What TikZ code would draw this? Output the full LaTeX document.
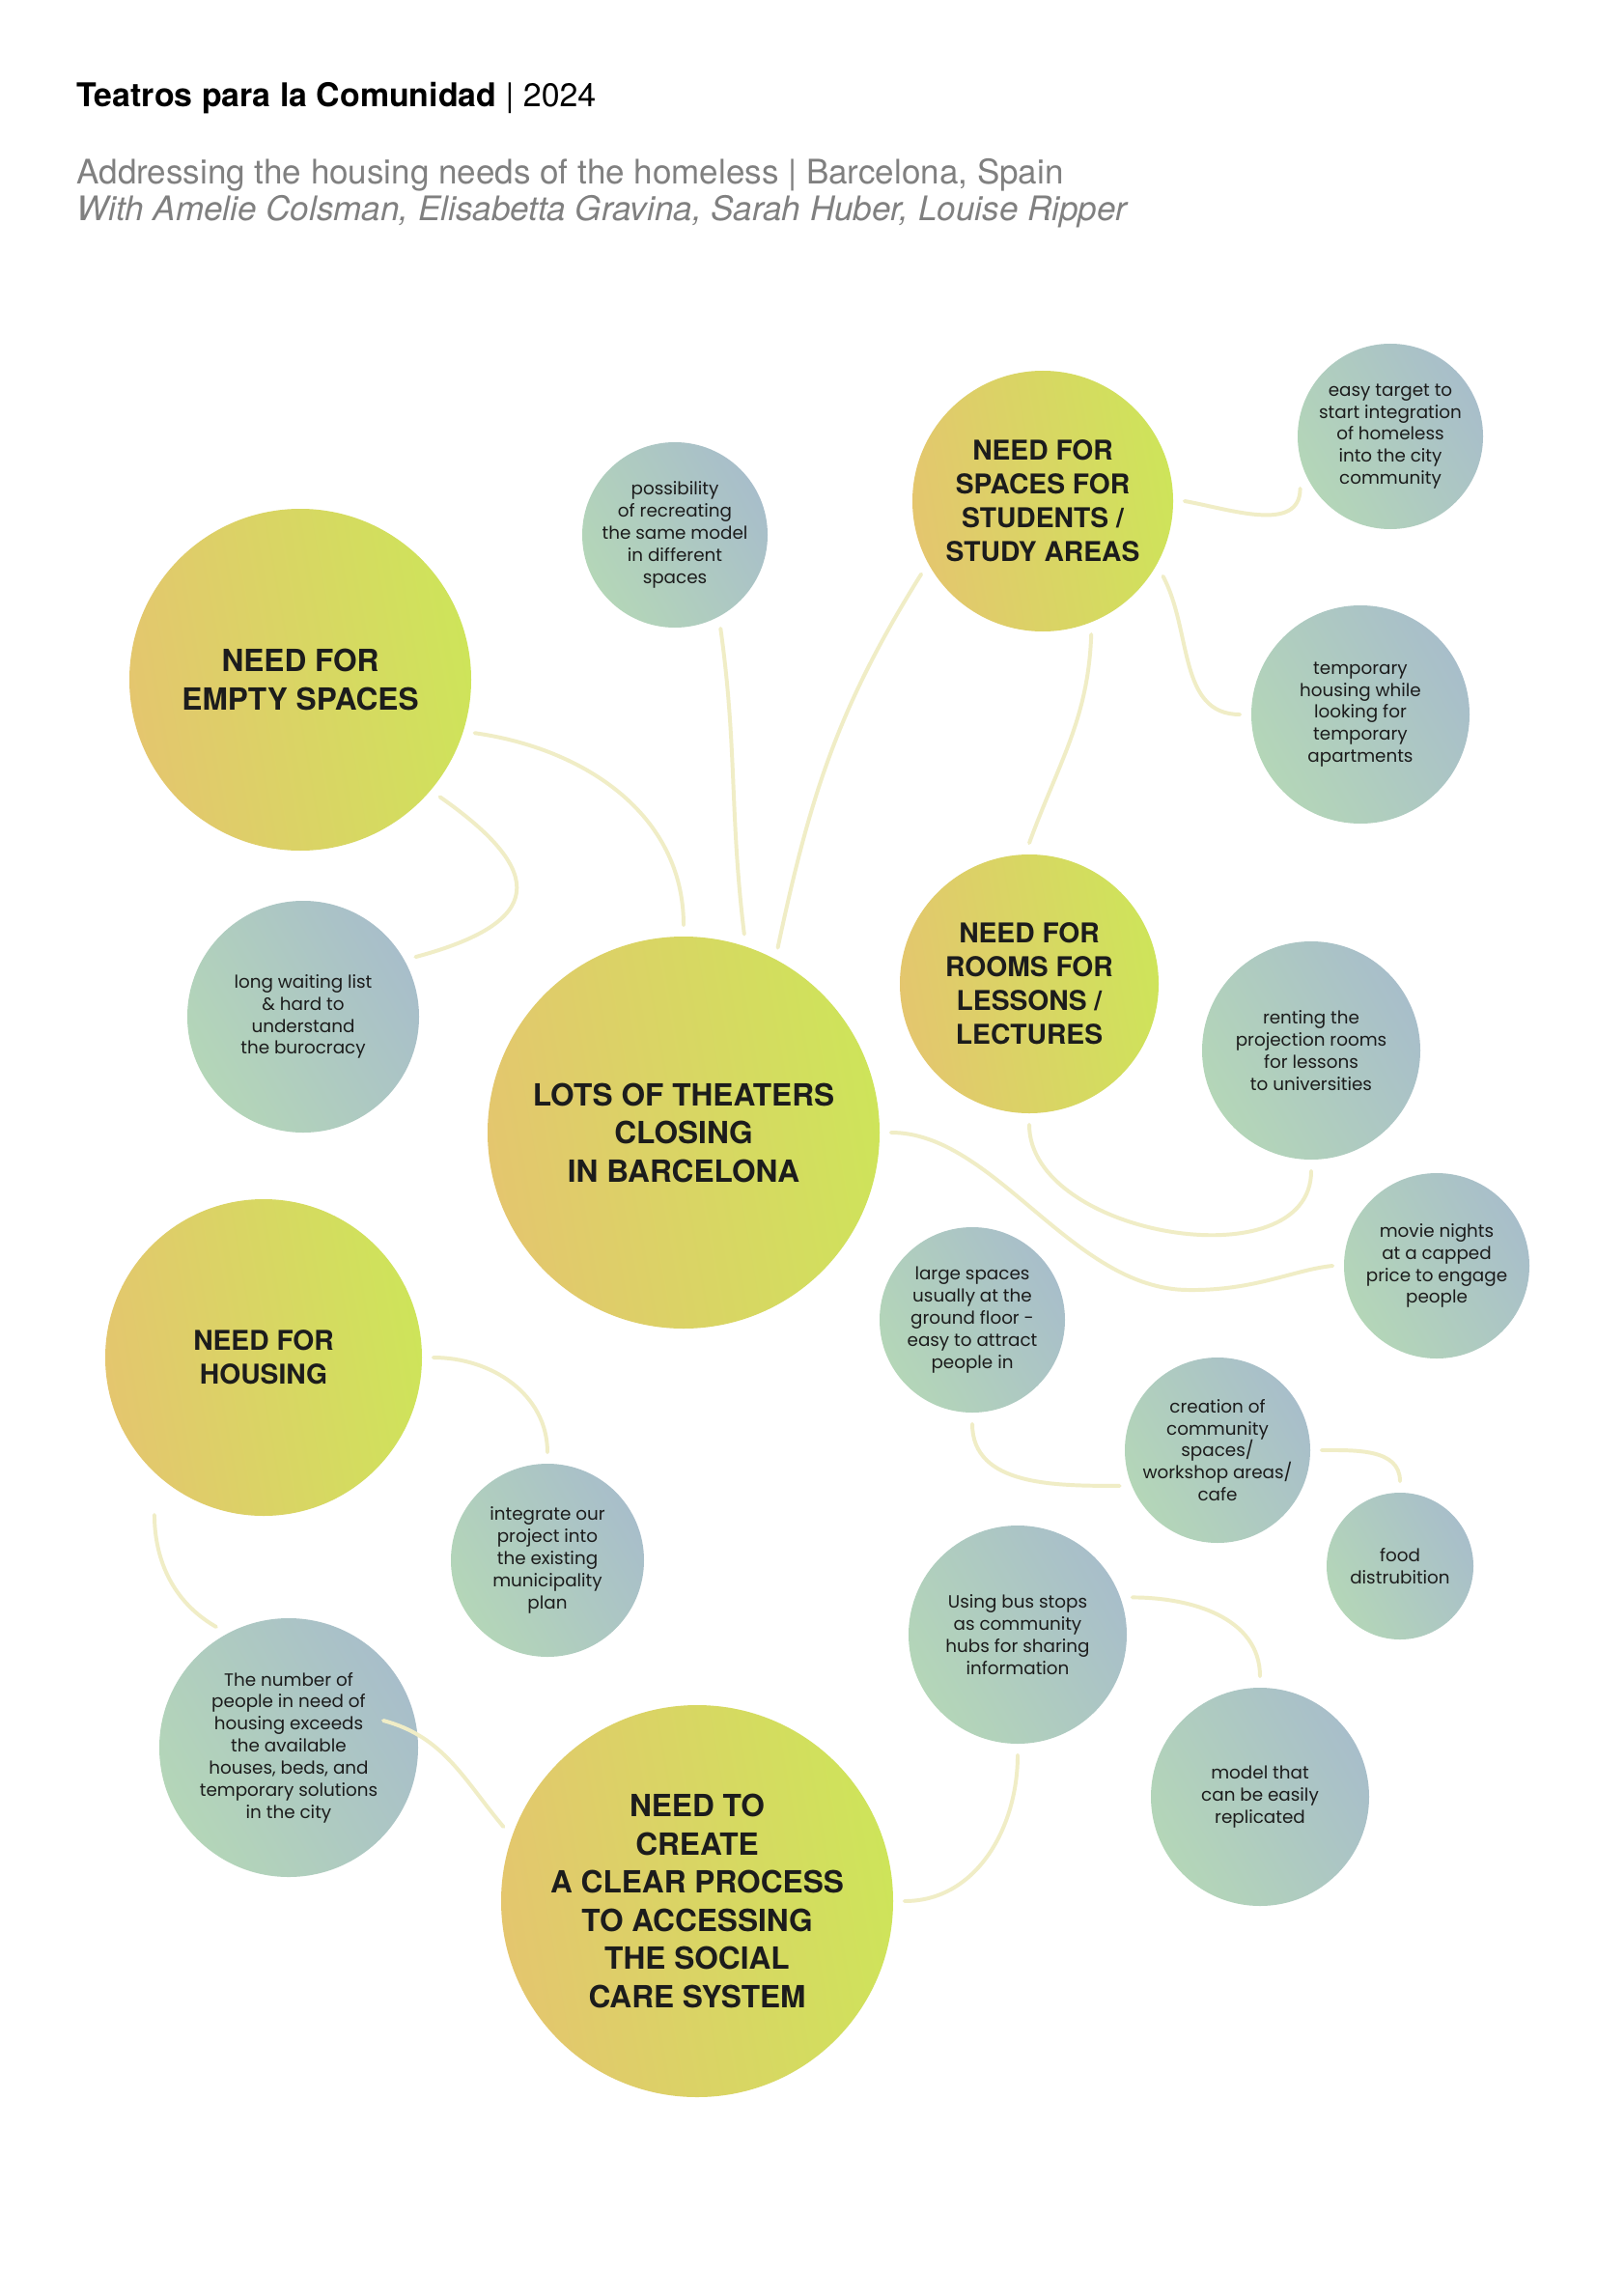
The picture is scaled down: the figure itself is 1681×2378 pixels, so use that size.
\documentclass[tikz,border=0pt]{standalone}
\usepackage{fontspec}
\setmainfont{TeX Gyre Heros}
\newfontfamily\ideafamily{Poppins}
\definecolor{needorange}{RGB}{228, 198, 110}
\definecolor{needlime}{RGB}{206, 228, 90}
\definecolor{ideagreen}{RGB}{180, 214, 184}
\definecolor{ideablue}{RGB}{168, 190, 202}
\definecolor{linkyellow}{RGB}{240, 237, 198}
\definecolor{inkdark}{RGB}{28, 28, 28}
\definecolor{subgray}{RGB}{128, 128, 128}

\begin{document}
\begin{tikzpicture}[x=0.3541pt, y=-0.3541pt,
        needbub/.style={circle, minimum size=2*#1*0.3541pt, inner sep=0pt,
            outer sep=4.2pt, left color=needorange, right color=needlime,
            shading angle=100, align=center, text=inkdark,
            font=\bfseries\fontsize{11.2}{14}\selectfont},
        needsmall/.style={needbub=#1,
            font=\bfseries\fontsize{10}{12.4}\selectfont},
        ideabub/.style={circle, minimum size=2*#1*0.3541pt, inner sep=0pt,
            outer sep=4.2pt, left color=ideagreen, right color=ideablue,
            shading angle=120, align=center, text=inkdark,
            font=\ideafamily\fontsize{6.5}{8.1}\selectfont},
        headline/.style={anchor=base west, inner sep=0pt,
            font=\fontsize{12.4}{15}\selectfont},
        link/.style={draw=linkyellow, line width=1.4pt, line cap=round}
    ]
    \useasboundingbox (0,0) rectangle (1681,2378);
    \fill[white] (0,0) rectangle (1681,2378);

    \node[headline, font=\fontsize{12}{15}\selectfont] (title) at (79,111)
        {\textbf{Teatros para la Comunidad} | 2024};
    \node[headline, text=subgray] (subtitle) at (79,191)
        {Addressing the housing needs of the homeless | Barcelona, Spain};
    \node[headline, text=subgray] (authors) at (79,229)
        {\itshape With Amelie Colsman, Elisabetta Gravina, Sarah Huber, Louise Ripper};

    % main needs
    \node[needbub=177] (empty) at (311,704) {NEED FOR\\EMPTY SPACES};
    \node[needbub=203] (lots) at (708,1173) {LOTS OF THEATERS\\CLOSING\\IN BARCELONA};
    \node[needsmall=164] (housing) at (273,1406) {NEED FOR\\HOUSING};
    \node[needbub=203] (process) at (722,1969)
        {NEED TO\\CREATE\\A CLEAR PROCESS\\TO ACCESSING\\THE SOCIAL\\CARE SYSTEM};
    \node[needsmall=135] (students) at (1080,519)
        {NEED FOR\\SPACES FOR\\STUDENTS /\\STUDY AREAS};
    \node[needsmall=134] (rooms) at (1066,1019)
        {NEED FOR\\ROOMS FOR\\LESSONS /\\LECTURES};

    % ideas
    \node[ideabub=96] (remake) at (699,554)
        {possibility\\of recreating\\the same model\\in different\\spaces};
    \node[ideabub=96] (target) at (1440,452)
        {easy target to\\start integration\\of homeless\\into the city\\community};
    \node[ideabub=113] (temphouse) at (1409,740)
        {temporary\\housing while\\looking for\\temporary\\apartments};
    \node[ideabub=120] (waiting) at (314,1053)
        {long waiting list\\\& hard to\\understand\\the burocracy};
    \node[ideabub=113] (renting) at (1358,1088)
        {renting the\\projection rooms\\for lessons\\to universities};
    \node[ideabub=96] (movie) at (1488,1311)
        {movie nights\\at a capped\\price to engage\\people};
    \node[ideabub=96] (large) at (1007,1367)
        {large spaces\\usually at the\\ground floor -\\easy to attract\\people in};
    \node[ideabub=96] (creation) at (1261,1502)
        {creation of\\community\\spaces/\\workshop areas/\\cafe};
    \node[ideabub=76] (food) at (1450,1622) {food\\distrubition};
    \node[ideabub=100] (integrate) at (567,1616)
        {integrate our\\project into\\the existing\\municipality\\plan};
    \node[ideabub=113] (busstops) at (1054,1693)
        {Using bus stops\\as community\\hubs for sharing\\information};
    \node[ideabub=134] (number) at (299,1810)
        {The number of\\people in need of\\housing exceeds\\the available\\houses, beds, and\\temporary solutions\\in the city};
    \node[ideabub=113] (model) at (1305,1861)
        {model that\\can be easily\\replicated};

    \coordinate (numtip) at (397,1782);

    \draw[link] (empty.-17) to[out=-8, in=90] (lots.90);
    \draw[link] (empty.-40) to[out=-35, in=15, looseness=2.1] (waiting.28);
    \draw[link] (remake.-64) to[out=-82, in=97] (lots.73);
    \draw[link] (students.211) to[out=-122, in=78] (lots.63);
    \draw[link] (students.0) to[out=-10, in=-90] (target.210);
    \draw[link] (students.-32) to[out=-62, in=180] (temphouse.180);
    \draw[link] (students.-70) to[out=-92, in=70] (rooms.90);
    \draw[link] (rooms.-90) to[out=-90, in=-90] (renting.-90);
    \draw[link] (lots.0) .. controls (1030,1173) and (1110,1335) .. (1230,1336)
        .. controls (1300,1337) and (1340,1315) .. (movie.180);
    \draw[link] (large.-90) to[out=-90, in=180] (creation.200);
    \draw[link] (creation.0) to[out=0, in=90] (food.90);
    \draw[link] (busstops.18) to[out=0, in=90] (model.90);
    \draw[link] (busstops.-90) to[out=-90, in=0] (process.0);
    \draw[link] (housing.0) to[out=0, in=90] (integrate.90);
    \draw[link, shorten <=10pt] (housing.-130) to[out=-90, in=150] (number.121);
    \draw[link] (numtip) to[out=-15, in=130] (process.159);
\end{tikzpicture}
\end{document}
